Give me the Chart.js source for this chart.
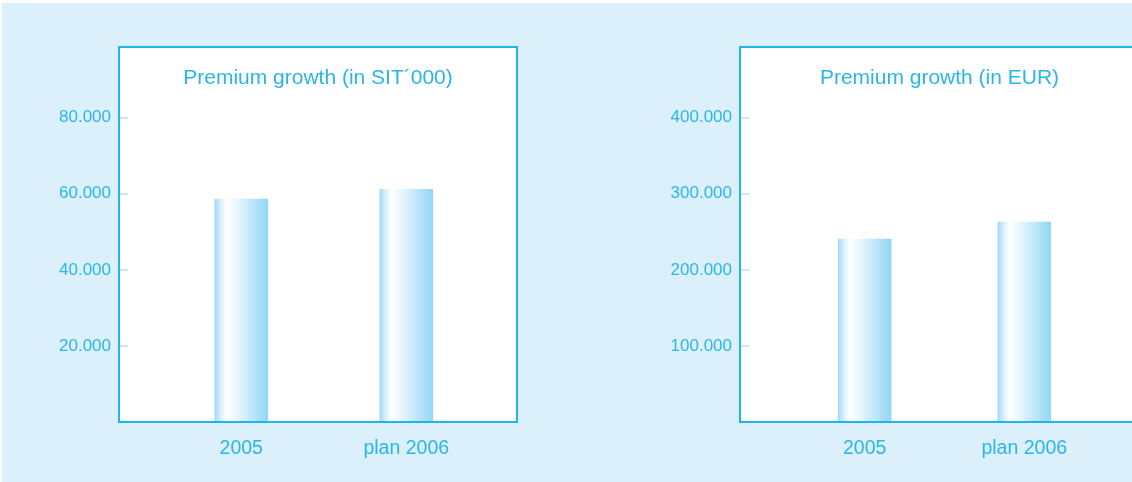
<!DOCTYPE html>
<html>
<head>
<meta charset="utf-8">
<script src="https://cdn.jsdelivr.net/npm/chart.js@4.4.1/dist/chart.umd.min.js"></script>
<style>
  html, body { margin:0; padding:0; width:1132px; height:482px; overflow:hidden; background:#ffffff; }
  #bg { position:absolute; left:2px; top:3px; right:0; bottom:0; background:#dbf0fb; }
  canvas { position:absolute; top:0; }
</style>
</head>
<body>
<div id="bg"></div>
<canvas id="c1" width="566" height="482" style="left:0px"></canvas>
<canvas id="c2" width="600" height="482" style="left:566px"></canvas>
<script>
// ---- data ----
const categories = ['2005', 'plan 2006'];

const titleSIT = 'Premium growth (in SIT\u00B4000)';
const valuesSIT = [58600, 61200];
const yTicksSIT = [20000, 40000, 60000, 80000];
const yTickLabelsSIT = ['20.000', '40.000', '60.000', '80.000'];

const titleEUR = 'Premium growth (in EUR)';
const valuesEUR = [240500, 262800];
const yTicksEUR = [100000, 200000, 300000, 400000];
const yTickLabelsEUR = ['100.000', '200.000', '300.000', '400.000'];

// ---- styles ----
const FONT = "'Liberation Sans', Arial, Helvetica, sans-serif";
const CYAN = '#1fb4ea';
const TEXT = '#2ab6ea';
const TICKMARK = '#c3e9f9';

const framePlugin = {
  id: 'frame',
  beforeDraw(chart, args, opts) {
    const a = chart.chartArea, c = chart.ctx;
    c.save();
    c.fillStyle = '#ffffff';
    c.fillRect(a.left, a.top, a.right - a.left, a.bottom - a.top);
    c.restore();
  },
  afterDatasetsDraw(chart, args, opts) {
    const a = chart.chartArea, c = chart.ctx;
    c.save();
    c.strokeStyle = CYAN;
    c.lineWidth = 2;
    c.strokeRect(a.left, a.top, a.right - a.left, a.bottom - a.top);
    c.fillStyle = TEXT;
    c.font = '21px ' + FONT;
    c.textAlign = 'center';
    c.textBaseline = 'alphabetic';
    c.fillText(opts.text, (a.left + a.right) / 2, a.top + 37);
    c.restore();
  }
};

function barGradient(ctx) {
  const ch = ctx.chart;
  const xs = ch.scales && ch.scales.x;
  if (!xs || ctx.type !== 'data') return '#a8dcf5';
  const cx = xs.getPixelForValue(ctx.dataIndex);
  if (!isFinite(cx)) return '#a8dcf5';
  const half = 26.5;
  const g = ch.ctx.createLinearGradient(cx - half, 0, cx + half, 0);
  g.addColorStop(0.00, '#a2daf5');
  g.addColorStop(0.10, '#d3eefb');
  g.addColorStop(0.22, '#ffffff');
  g.addColorStop(0.40, '#eaf7fd');
  g.addColorStop(1.00, '#92d6f4');
  return g;
}

function makeChart(id, title, values, yTicks, yTickLabels, yMax, xMin, xMax, yAxisWidth, padRight) {
  return new Chart(document.getElementById(id), {
    type: 'bar',
    data: {
      datasets: [{
        data: categories.map((c, i) => ({ x: i, y: values[i] })),
        backgroundColor: barGradient,
        borderWidth: 0,
        barThickness: 53
      }]
    },
    options: {
      responsive: false,
      animation: false,
      events: [],
      layout: { padding: { left: 0, right: padRight, top: 47, bottom: 0 } },
      plugins: {
        legend: { display: false },
        tooltip: { enabled: false },
        title: { display: false },
        frame: { text: title }
      },
      scales: {
        x: {
          type: 'linear',
          min: xMin, max: xMax,
          offset: false,
          afterBuildTicks: s => { s.ticks = categories.map((c, i) => ({ value: i })); },
          afterFit: s => { s.height = 60; },
          grid: { display: false },
          border: { display: false },
          ticks: {
            autoSkip: false,
            maxRotation: 0,
            padding: 7,
            color: TEXT,
            font: { family: FONT, size: 19.5 },
            callback: (v) => categories[v]
          }
        },
        y: {
          min: 0, max: yMax,
          afterBuildTicks: s => { s.ticks = yTicks.map(v => ({ value: v })); },
          afterFit: s => { s.width = yAxisWidth; },
          grid: {
            drawOnChartArea: false,
            drawTicks: true,
            tickLength: -9,
            lineWidth: 2,
            color: TICKMARK
          },
          border: { display: false },
          ticks: {
            padding: 17,
            color: TEXT,
            font: { family: FONT, size: 17 },
            callback: (v) => yTickLabels[yTicks.indexOf(v)]
          }
        }
      }
    },
    plugins: [framePlugin]
  });
}

const chartSIT = makeChart('c1', titleSIT, valuesSIT, yTicksSIT, yTickLabelsSIT, 98600, -0.741, 1.671, 119, 49);
const chartEUR = makeChart('c2', titleEUR, valuesEUR, yTicksEUR, yTickLabelsEUR, 493000, -0.781, 1.719, 174, 27);
chartSIT.update();
chartEUR.update();
</script>
</body>
</html>
